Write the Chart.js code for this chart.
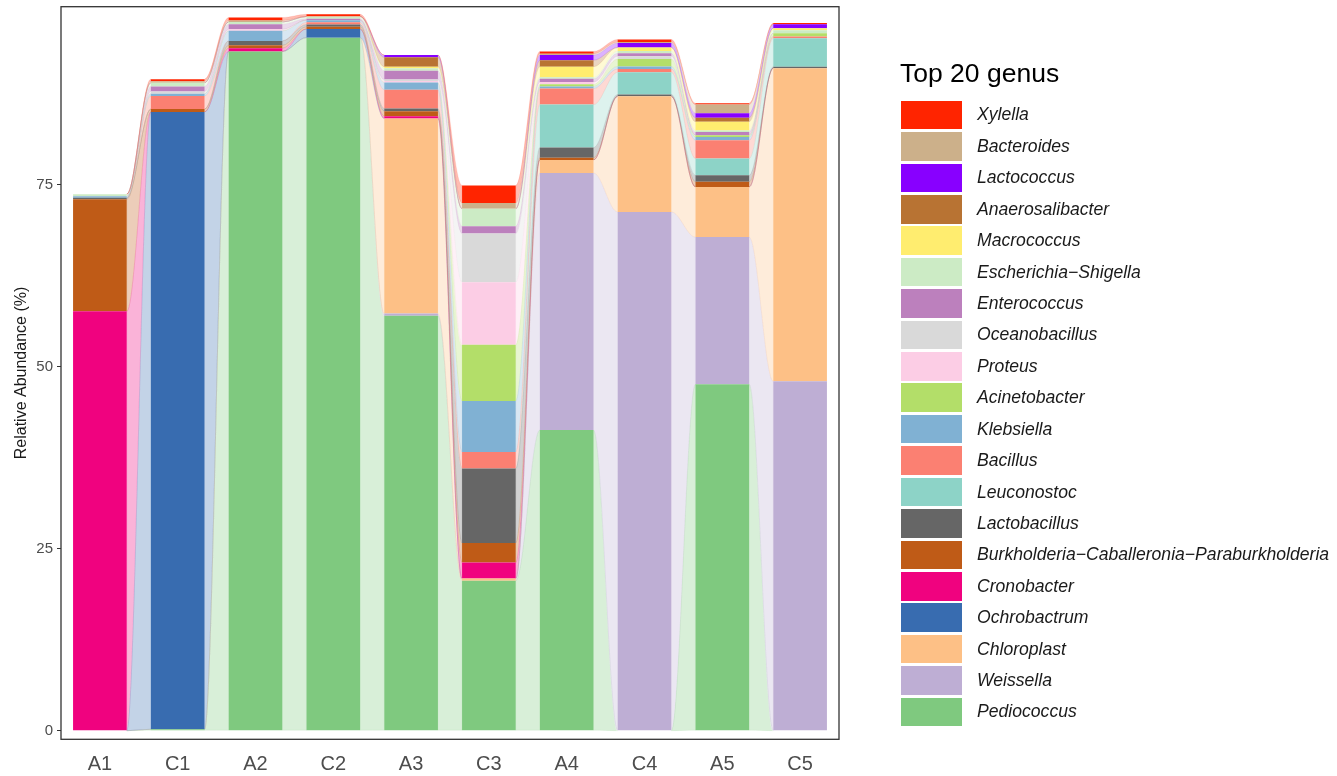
<!DOCTYPE html>
<html>
<head>
<meta charset="utf-8">
<script src="https://cdn.jsdelivr.net/npm/chart.js@4.4.0/dist/chart.umd.min.js"></script>
<style>
    html, body { margin: 0; padding: 0; background: #ffffff; }
    #wrap { position: relative; width: 1337px; height: 776px; overflow: hidden; }
    #chart { position: absolute; left: 0; top: 0; }
    #legend {
        position: absolute;
        left: 900px;
        top: 0;
        font-family: "Liberation Sans", Arial, sans-serif;
    }
    #legend .title {
        position: absolute;
        left: 0;
        top: 58px;
        font-size: 26.5px;
        line-height: 30px;
        color: #000000;
        white-space: nowrap;
    }
    #legend .item {
        position: absolute;
        left: 1px;
        height: 31.4px;
        display: flex;
        align-items: center;
        white-space: nowrap;
    }
    #legend .box { width: 61px; height: 28.6px; margin-right: 15px; }
    #legend .label { font-size: 17.6px; font-style: italic; color: #1a1a1a; }
</style>
</head>
<body>
<div id="wrap">
    <canvas id="chart" width="1337" height="776"></canvas>
    <div id="legend"></div>
</div>
<script>
// samples along the x axis
const samples = ['A1', 'C1', 'A2', 'C2', 'A3', 'C3', 'A4', 'C4', 'A5', 'C5'];
const yTicks = [0, 25, 50, 75];

// relative abundance (%) per genus, one value per sample (stack order: bottom -> top)
const pediococcus      = [0,    0.2,  93.3, 95.2, 57.0, 20.6, 41.3, 0,    47.6, 0];
const weissella        = [0,    0,    0,    0,    0.3,  0,    35.3, 71.25, 20.2, 48.0];
const chloroplast      = [0,    0,    0,    0,    26.8, 0.3,  1.8,  15.9, 6.9,  43.0];
const ochrobactrum     = [0,    84.8, 0,    1.2,  0,    0,    0,    0,    0,    0];
const cronobacter      = [57.6, 0,    0.45, 0,    0.3,  2.2,  0,    0,    0,    0];
const burkholderia     = [15.4, 0.4,  0.4,  0.3,  0.7,  2.7,  0.3,  0,    0.7,  0];
const lactobacillus    = [0.2,  0,    0.6,  0.3,  0.35, 10.2, 1.4,  0.25, 0.9,  0.2];
const leuconostoc      = [0,    0,    0,    0,    0,    0,    5.9,  3.05, 2.3,  3.9];
const bacillus         = [0,    1.8,  0,    0.3,  2.6,  2.3,  2.2,  0.45, 2.5,  0.25];
const klebsiella       = [0.2,  0.3,  1.4,  0.3,  1.0,  7.0,  0.3,  0.35, 0.45, 0];
const acinetobacter    = [0,    0,    0,    0,    0,    7.7,  0.3,  1.0,  0.25, 0.45];
const proteus          = [0,    0,    0.2,  0,    0.2,  8.6,  0.3,  0,    0,    0];
const oceanobacillus   = [0,    0.3,  0,    0,    0.2,  6.7,  0,    0.4,  0,    0];
const enterococcus     = [0,    0.7,  0.7,  0.2,  1.2,  1.0,  0.45, 0.4,  0.45, 0];
const escherichia      = [0.3,  0.5,  0.3,  0.3,  0.35, 2.4,  0.2,  0.3,  0.2,  0.4];
const macrococcus      = [0,    0,    0,    0,    0.2,  0,    1.45, 0.5,  1.2,  0.3];
const anaerosalibacter = [0,    0,    0,    0,    1.3,  0,    0.9,  0,    0.55, 0];
const lactococcus      = [0,    0,    0,    0,    0.3,  0,    0.7,  0.6,  0.6,  0.55];
const bacteroides      = [0,    0.2,  0.2,  0,    0,    0.8,  0.2,  0.15, 1.2,  0];
const xylella          = [0,    0.3,  0.4,  0.3,  0,    2.4,  0.3,  0.35, 0.2,  0.15];

const genera = [
    'Pediococcus', 'Weissella', 'Chloroplast', 'Ochrobactrum', 'Cronobacter',
    'Burkholderia\u2212Caballeronia\u2212Paraburkholderia', 'Lactobacillus', 'Leuconostoc',
    'Bacillus', 'Klebsiella', 'Acinetobacter', 'Proteus', 'Oceanobacillus', 'Enterococcus',
    'Escherichia\u2212Shigella', 'Macrococcus', 'Anaerosalibacter', 'Lactococcus',
    'Bacteroides', 'Xylella'
];
const values = [
    pediococcus, weissella, chloroplast, ochrobactrum, cronobacter, burkholderia,
    lactobacillus, leuconostoc, bacillus, klebsiella, acinetobacter, proteus,
    oceanobacillus, enterococcus, escherichia, macrococcus, anaerosalibacter,
    lactococcus, bacteroides, xylella
];
const colors = [
    '#7FC97F', '#BEAED4', '#FDC086', '#386CB0', '#F0027F', '#BF5B17', '#666666', '#8DD3C7',
    '#FB8072', '#80B1D3', '#B3DE69', '#FCCDE5', '#D9D9D9', '#BC80BD', '#CCEBC5', '#FFED6F',
    '#B87333', '#8800FF', '#CCB08A', '#FF2400'
];

const FONT = '"Liberation Sans", Arial, sans-serif';

function rgba(hex, a) {
    const n = parseInt(hex.slice(1), 16);
    return `rgba(${(n >> 16) & 255}, ${(n >> 8) & 255}, ${n & 255}, ${a})`;
}

// alluvial bands between neighbouring bars, drawn under the bars
const flowPlugin = {
    id: 'flows',
    beforeDatasetsDraw(chart) {
        const ctx = chart.ctx;
        const area = chart.chartArea;
        ctx.save();
        ctx.beginPath();
        ctx.rect(area.left, area.top, area.right - area.left, area.bottom - area.top);
        ctx.clip();
        chart.data.datasets.forEach((ds, d) => {
            const bars = chart.getDatasetMeta(d).data;
            ctx.fillStyle = rgba(colors[d], 0.3);
            ctx.strokeStyle = rgba(colors[d], 0.18);
            ctx.lineWidth = 0.6;
            for (let i = 0; i < bars.length - 1; i++) {
                const a = bars[i].getProps(['x', 'y', 'base', 'width'], true);
                const b = bars[i + 1].getProps(['x', 'y', 'base', 'width'], true);
                const x0 = a.x + a.width / 2, x1 = b.x - b.width / 2;
                const c = (x1 - x0) * 0.35;
                ctx.beginPath();
                ctx.moveTo(x0, a.y);
                ctx.bezierCurveTo(x0 + c, a.y, x1 - c, b.y, x1, b.y);
                ctx.lineTo(x1, b.base);
                ctx.bezierCurveTo(x1 - c, b.base, x0 + c, a.base, x0, a.base);
                ctx.closePath();
                ctx.fill();
                ctx.stroke();
            }
        });
        ctx.restore();
    }
};

// panel border like theme_bw
const panelBorder = {
    id: 'panelBorder',
    afterDraw(chart) {
        const { left, top, right, bottom } = chart.chartArea;
        const ctx = chart.ctx;
        ctx.save();
        ctx.strokeStyle = '#333333';
        ctx.lineWidth = 1.3;
        ctx.strokeRect(left, top, right - left, bottom - top);
        ctx.restore();
    }
};

new Chart(document.getElementById('chart'), {
    type: 'bar',
    data: {
        labels: samples,
        datasets: genera.map((g, i) => ({
            label: g,
            data: values[i],
            backgroundColor: colors[i],
            borderWidth: 0,
            barPercentage: 0.69,
            categoryPercentage: 1.0
        }))
    },
    options: {
        responsive: false,
        animation: false,
        layout: { autoPadding: false, padding: { top: 6.7, right: 498, left: 0, bottom: 0 } },
        plugins: {
            legend: { display: false },
            tooltip: { enabled: false }
        },
        scales: {
            x: {
                stacked: true,
                offset: true,
                grid: { display: false },
                border: { display: false },
                ticks: { color: '#4D4D4D', font: { family: FONT, size: 20 }, padding: 5 },
                afterFit: (s) => { s.height = 36.7; s.paddingLeft = 0; s.paddingRight = 0; }
            },
            y: {
                stacked: true,
                min: -1.18,
                max: 99.45,
                grid: { display: true, drawOnChartArea: false, drawTicks: true, tickLength: 4, color: '#333333' },
                border: { display: false },
                afterBuildTicks: (s) => { s.ticks = yTicks.map(v => ({ value: v })); },
                ticks: { color: '#4D4D4D', font: { family: FONT, size: 15 }, padding: 4 },
                title: {
                    display: true,
                    text: 'Relative Abundance (%)',
                    color: '#1a1a1a',
                    font: { family: FONT, size: 16 },
                    padding: { top: 12, bottom: 0 }
                },
                afterFit: (s) => { s.width = 61; s.paddingTop = 0; s.paddingBottom = 0; }
            }
        }
    },
    plugins: [flowPlugin, panelBorder]
});

// legend, top entry = top of the stack
const legend = document.getElementById('legend');
legend.innerHTML = '<div class="title">Top 20 genus</div>';
genera.slice().reverse().forEach((g, k) => {
    const idx = genera.length - 1 - k;
    const item = document.createElement('div');
    item.className = 'item';
    item.style.top = (99.3 + k * 31.42) + 'px';
    item.innerHTML = `<div class="box" style="background:${colors[idx]}"></div><span class="label">${g}</span>`;
    legend.appendChild(item);
});
</script>
</body>
</html>
